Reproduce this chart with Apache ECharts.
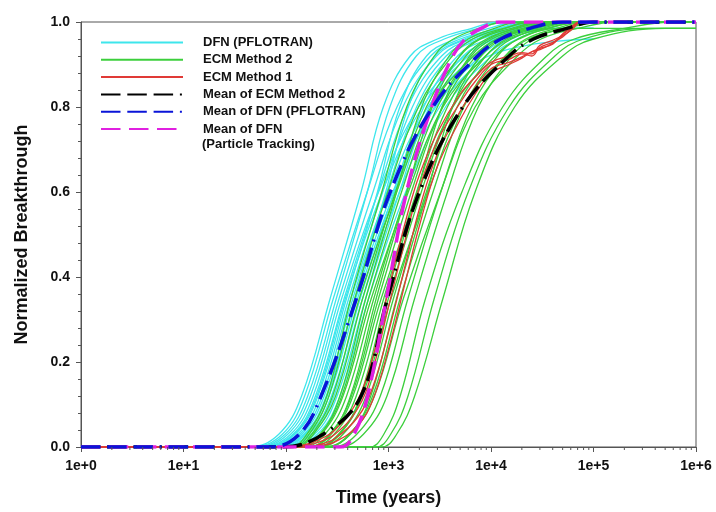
<!DOCTYPE html>
<html><head><meta charset="utf-8">
<script src="https://cdn.jsdelivr.net/npm/echarts@6.0.0/dist/echarts.min.js"></script>
<style>html,body{margin:0;padding:0;background:#fff}#c{width:716px;height:512px}</style>
</head><body><div id="c"></div>
<script>
// Breakthrough levels; each curve below lists the time (years) at which it reaches each level
const levels = [0, 0.03, 0.12, 0.35, 0.6, 0.8, 0.92, 0.96, 0.985, 1.0];

// DFN (PFLOTRAN) realizations (end at 1e5 years)
const dfnCurves = [
  [43, 85, 142, 270, 540, 890, 1630, 3000, 6500, 12000],
  [46, 92, 152, 290, 620, 1210, 2580, 5000, 12000, 25000],
  [49, 98, 163, 310, 620, 1030, 1870, 3500, 7500, 14000],
  [52, 104, 173, 330, 706, 1380, 2940, 5800, 14000, 30000],
  [55, 111, 184, 350, 800, 1970, 5530, 9870, 22000, 60000],
  [58, 117, 194, 370, 792, 1540, 3300, 6500, 16000, 35000],
  [62, 123, 205, 390, 780, 1290, 2350, 4500, 9500, 18000],
  [65, 130, 215, 410, 877, 1710, 3650, 7200, 18000, 40000],
  [68, 136, 226, 430, 985, 2420, 6800, 12100, 27100, 80000],
  [71, 142, 236, 450, 963, 1880, 4010, 8000, 20000, 45000],
  [74, 149, 247, 470, 940, 1560, 2830, 5500, 12000, 22000],
  [79, 158, 263, 500, 1150, 2810, 7900, 14100, 31500, null],
  [84, 167, 278, 530, 1130, 2210, 4720, 9500, 23000, 50000],
  [88, 177, 294, 560, 1280, 3150, 8850, 15800, 35000, null],
  [95, 190, 315, 600, 1280, 2500, 5350, 11000, 26000, 60000],
  [101, 202, 336, 640, 1470, 3600, 10100, 18000, 40300, null],
  [60, 120, 200, 380, 870, 2140, 6000, 10700, 24000, 70000],
  [76, 152, 252, 480, 1100, 2900, 9500, 100000, null, null]
];
const dfnEnd = 100000;

// ECM Method 2 realizations (end at 1e6 years)
const ecm2Curves = [
  [110, 160, 250, 430, 860, 1505, 2800, 4300, 7740, 13800],
  [115, 168, 262, 470, 982, 1960, 4190, 6630, 13300, 26400],
  [120, 178, 285, 520, 1200, 2600, 6760, 11400, 26000, 62400],
  [125, 185, 305, 560, 1170, 2340, 4990, 7900, 15800, 31500],
  [130, 215, 336, 600, 1200, 2100, 3900, 6000, 10800, 19200],
  [135, 215, 350, 640, 1340, 2670, 5700, 9020, 18000, 36000],
  [140, 222, 360, 680, 1560, 3400, 8840, 15000, 34000, 81600],
  [145, 240, 390, 720, 1500, 3000, 6420, 10200, 20300, 40500],
  [160, 270, 426, 760, 1520, 2660, 4940, 7600, 13700, 24300],
  [160, 265, 435, 800, 1670, 3340, 7130, 11300, 22600, 45000],
  [165, 275, 450, 850, 1960, 4250, 11000, 18700, 45000, null],
  [175, 295, 485, 900, 1880, 3750, 8020, 12700, 25400, 50600],
  [195, 335, 532, 950, 1900, 3330, 6180, 9500, 17100, 30400],
  [190, 325, 540, 1000, 2090, 4170, 8910, 14100, 28200, 56200],
  [190, 330, 555, 1060, 2440, 5300, 13800, 23300, 53000, 127000],
  [205, 360, 605, 1120, 2340, 4670, 9980, 15800, 31600, 62900],
  [240, 420, 672, 1200, 2400, 4200, 7800, 12000, 21600, 38400],
  [235, 415, 700, 1300, 2720, 5420, 11600, 18300, 36700, 73100],
  [235, 425, 730, 1400, 3220, 7000, 18200, 30800, 70000, 168000],
  [276, 490, 832, 1550, 3240, 6460, 13800, 21900, 43700, 87100],
  [320, 569, 967, 1800, 3760, 7510, 16000, 25400, 50800, 101000],
  [650, 900, 1300, 2300, 5200, 13000, 35000, 65000, 200000, 600000],
  [750, 1050, 1550, 2800, 6000, 15000, 42000, 80000, 350000, null],
  [850, 1200, 1800, 3400, 7000, 17000, 50000, 100000, 500000, null]
];
const ecm2End = 1000000;

// ECM Method 1 realizations, sampled on their own time grid
const ecm1Times = [1, 100, 150, 200, 300, 500, 700, 1000, 1500, 2000, 3000, 5000, 7000, 10000, 15000, 20000, 25000, 30000, 40000, 50000, 60000, 70000];
const ecm1Curves = [
  [0, 0, 0.003, 0.01, 0.03, 0.09, 0.18, 0.33, 0.50, 0.61, 0.72, 0.81, 0.86, 0.90, 0.912, 0.925, 0.92, 0.94, 0.952, 0.965, 0.982, 0.998],
  [0, 0, 0, 0.004, 0.02, 0.07, 0.14, 0.27, 0.44, 0.56, 0.69, 0.79, 0.845, 0.89, 0.905, 0.918, 0.93, 0.935, 0.95, 0.97, 0.985, 1.0],
  [0, 0, 0.005, 0.015, 0.04, 0.11, 0.21, 0.37, 0.54, 0.64, 0.74, 0.83, 0.87, 0.905, 0.92, 0.928, 0.925, 0.945, 0.957, 0.968, 0.98, 0.997],
  [0, 0, 0, 0.002, 0.012, 0.05, 0.11, 0.23, 0.40, 0.52, 0.66, 0.77, 0.83, 0.88, 0.90, 0.915, 0.93, 0.938, 0.948, 0.972, 0.988, 1.0]
];

// Mean curves (times at each level)
const meanEcm2 = [90, 230, 540, 980, 2000, 5300, 15000, 26000, 55000, 100000];
const meanDfn = [70, 135, 220, 487, 1040, 2700, 7400, 12500, 24000, 50000];
const meanDfnPT = [340, 460, 625, 955, 1500, 2630, 4240, 5600, 8000, 12000];
const meanEnd = 1000000;

const legendNames = ['DFN (PFLOTRAN)', 'ECM Method 2', 'ECM Method 1', 'Mean of ECM Method 2', 'Mean of DFN (PFLOTRAN)', 'Mean of DFN'];
const yTickLabels = ['0.0', '0.2', '0.4', '0.6', '0.8', '1.0'];

const FONT = '"Liberation Sans", Arial, sans-serif';

function levelCurve(times, endT) {
  const pts = [[1, 0]];
  let last = 0, lastT = 1;
  times.forEach((t, i) => {
    if (t != null) { pts.push([t, levels[i]]); last = levels[i]; lastT = t; }
  });
  if (endT > lastT) pts.push([endT, last]);
  return pts;
}

const series = [];
const thin = (name, color, data) => ({
  name, type: 'line', data, symbol: 'none', showSymbol: false, smooth: 0.4,
  lineStyle: { color, width: 1.3 }, itemStyle: { color }, silent: true, z: 2
});
dfnCurves.forEach(c => series.push(thin('DFN (PFLOTRAN)', '#3ee6ec', levelCurve(c, dfnEnd))));
ecm2Curves.forEach(c => series.push(thin('ECM Method 2', '#3ccf3c', levelCurve(c, ecm2End))));
ecm1Curves.forEach(c => series.push(thin('ECM Method 1', '#e03a36', ecm1Times.map((t, i) => [t, c[i]]))));

const dashDot = [19.5, 6.8, 19.5, 6.8, 19.5, 6.8, 2, 6.8];
const mean = (name, color, dash, data, z) => ({
  name, type: 'line', data, symbol: 'none', showSymbol: false, smooth: 0.4,
  lineStyle: { color, width: 3.5, type: dash }, itemStyle: { color }, silent: true, z
});
series.push(mean('Mean of ECM Method 2', '#000000', dashDot, levelCurve(meanEcm2, meanEnd), 5));
series.push(mean('Mean of DFN', '#e020e0', [19.5, 8.5], levelCurve(meanDfnPT, meanEnd), 6));
series.push(mean('Mean of DFN (PFLOTRAN)', '#0a14d8', dashDot, levelCurve(meanDfn, meanEnd), 7));

// minor log ticks on the time axis
const minorX = [];
for (let e = 0; e < 6; e++) for (let m = 2; m <= 9; m++) minorX.push([m * Math.pow(10, e), 0]);
series.push({
  type: 'custom', data: minorX, silent: true, z: 10, clip: false,
  encode: { x: 0, y: 1 },
  renderItem: (params, api) => {
    const p = api.coord([api.value(0), 0]);
    return { type: 'line', shape: { x1: p[0], y1: p[1], x2: p[0], y2: p[1] + 3 }, style: { stroke: '#555', lineWidth: 1 } };
  }
});

const chart = echarts.init(document.getElementById('c'), null, { renderer: 'canvas' });
chart.setOption({
  animation: false,
  backgroundColor: '#fff',
  grid: { left: 81, right: 20, top: 22, bottom: 64, show: true, borderColor: '#555', borderWidth: 1 },
  legend: {
    data: legendNames, orient: 'vertical', left: 100, top: 36, padding: 0,
    itemWidth: 82, itemHeight: 14, itemGap: 4.3, selectedMode: false,
    itemStyle: { opacity: 0 },
    textStyle: { fontFamily: FONT, fontWeight: 'bold', fontSize: 13, color: '#111', padding: [0, 0, 0, 15] }
  },
  graphic: [{
    type: 'text', left: 202, top: 137.5,
    style: { text: '(Particle Tracking)', font: 'bold 13px "Liberation Sans", Arial, sans-serif', fill: '#111' }
  }],
  xAxis: {
    type: 'log', logBase: 10, min: 1, max: 1000000, splitNumber: 6,
    name: 'Time (years)', nameLocation: 'middle', nameGap: 42,
    nameTextStyle: { fontFamily: FONT, fontWeight: 'bold', fontSize: 18, color: '#111' },
    axisLine: { lineStyle: { color: '#555', width: 1 } },
    axisTick: { length: 5, lineStyle: { color: '#555' } },
    axisLabel: { fontFamily: FONT, fontWeight: 'bold', fontSize: 14, color: '#111', margin: 12,
      formatter: v => '1e+' + Math.round(Math.log10(v)) },
    splitLine: { show: false }
  },
  yAxis: {
    type: 'value', min: 0, max: 1, interval: 0.2,
    name: 'Normalized Breakthrough', nameLocation: 'middle', nameGap: 50,
    nameTextStyle: { fontFamily: FONT, fontWeight: 'bold', fontSize: 18, color: '#111' },
    axisLine: { show: true, lineStyle: { color: '#555', width: 1 } },
    axisTick: { show: true, length: 5, lineStyle: { color: '#555' } },
    minorTick: { show: true, splitNumber: 5, length: 3, lineStyle: { color: '#555' } },
    axisLabel: { fontFamily: FONT, fontWeight: 'bold', fontSize: 14, color: '#111', margin: 11,
      formatter: v => yTickLabels[Math.round(v * 5)] },
    splitLine: { show: false }
  },
  series
});
</script></body></html>
